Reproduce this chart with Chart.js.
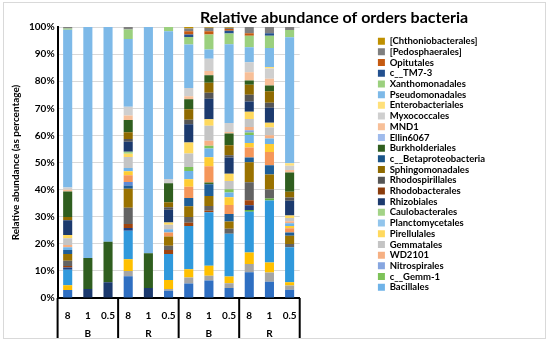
<!DOCTYPE html>
<html>
<head>
<meta charset="utf-8">
<script src="https://cdn.jsdelivr.net/npm/chart.js@4.4.1/dist/chart.umd.min.js"></script>
<style>
    html, body { margin: 0; padding: 0; background: #fff; }
    #wrap { position: relative; width: 550px; height: 344px; }
    #frame { position: absolute; left: 3px; top: 2px; width: 543px; height: 337px; border: 1px solid #d9d9d9; box-sizing: border-box; pointer-events: none; }
</style>
</head>
<body>
<div id="wrap">
    <canvas id="ordersChart" width="550" height="344"></canvas>
    <div id="frame"></div>
</div>
<script>
// Sous-catégories (barres) et groupes de l'axe X
const categories = ["8", "1", "0.5", "8", "1", "0.5", "8", "1", "0.5", "8", "1", "0.5"];
const groups = ["B", "R", "B", "R"];

// Ordres sans entrée dans la légende (bas des piles)
const unlisted01 = [3.0, 0, 0, 8.0, 0, 2.7, 5.4, 6.4, 3.7, 9.5, 6.0, 3.0];
const unlisted02 = [0, 0, 0, 0, 0, 0, 0, 0, 0, 0, 0, 0];
const unlisted03 = [0, 0, 0, 2.0, 0, 0.6, 2.2, 1.8, 1.7, 3.0, 3.4, 1.6];
const unlisted04 = [1.7, 0, 0, 4.3, 0, 3.3, 3.0, 3.7, 2.5, 4.3, 3.7, 1.2];
const unlisted05 = [5.8, 0, 0, 10.5, 0, 9.6, 16.0, 19.7, 15.8, 15.0, 22.8, 12.9];
const unlisted06 = [0, 0, 0, 0, 0, 0, 0, 0, 0, 0.6, 0.7, 0];
const unlisted07 = [0.8, 0, 0, 1.0, 0, 0, 0, 0, 0, 1.8, 0, 0];
const unlisted08 = [0.6, 0, 0, 1.5, 0, 1.5, 1.2, 0.5, 0, 1.8, 0, 0];
const unlisted09 = [2.0, 0, 0, 6.0, 0, 1.6, 2.1, 1.8, 1.8, 6.7, 3.3, 1.2];
const unlisted10 = [2.5, 0, 0, 7.0, 0, 3.4, 4.0, 3.7, 2.7, 7.3, 5.5, 3.1];
const unlisted11 = [1.5, 0, 0, 1.2, 0, 0, 3.0, 4.3, 2.8, 1.8, 3.4, 1.2];
const unlisted12 = [0, 0, 0, 0, 0, 0, 0, 0.6, 0, 0, 0, 0];
const unlisted13 = [0, 0, 0, 1.3, 0, 0, 0, 0, 0, 0, 0, 0];
const unlisted14 = [0, 0, 0, 2.5, 0, 1.5, 4.2, 6.0, 3.3, 3.7, 4.9, 1.5];
const unlisted15 = [0, 0, 0, 0, 0, 0, 0, 0, 0, 0, 0, 0];
const unlisted16 = [0, 0, 0, 1.5, 0, 0, 2.8, 3.3, 2.8, 1.6, 3.0, 0.9];

// Ordres de la légende (du bas vers le haut des piles)
const bacillales = [1.0, 0, 0, 1.2, 0, 1.2, 3.0, 3.3, 1.8, 3.0, 2.0, 1.0];
const gemm1 = [0, 0, 0, 0, 0, 0, 1.5, 1.0, 1.2, 0.9, 0, 0];
const nitrospirales = [0, 0, 0, 0, 0, 0, 0, 0, 0, 0.8, 0, 0];
const wd2101 = [0.8, 0, 0, 0, 0, 0, 0, 1.8, 0, 1.2, 1.2, 0.7];
const gemmatales = [2.5, 0, 0, 4.0, 0, 1.6, 5.0, 5.5, 3.0, 3.0, 2.8, 1.2];
const pirellulales = [1.2, 0, 0, 1.2, 0, 0.9, 4.0, 2.4, 2.7, 2.7, 1.8, 0.9];
const planctomycetales = [0, 0, 0, 0, 0, 0, 0, 0, 0, 0, 0, 0];
const caulobacterales = [0, 0, 0, 0.8, 0, 0, 0, 0, 0, 0, 0, 0];
const rhizobiales = [5.5, 3.3, 5.8, 3.7, 3.7, 4.7, 6.8, 7.6, 6.0, 3.7, 5.5, 5.5];
const rhodobacterales = [0, 0, 0, 0, 0, 0, 0, 0, 0, 0, 0, 0];
const rhodospirillales = [0, 0, 0, 1.0, 0, 0.9, 1.6, 2.2, 0.8, 2.5, 1.8, 1.2];
const sphingomonadales = [1.2, 0, 0, 2.5, 0, 1.8, 3.9, 3.7, 3.7, 3.7, 4.3, 2.1];
const betaproteobacteria = [0, 0, 0, 0, 0, 0, 0, 0, 0, 0, 0, 0];
const burkholderiales = [9.5, 11.5, 15.0, 4.5, 12.8, 7.0, 3.7, 2.7, 4.3, 1.6, 2.1, 7.1];
const ellin6067 = [0, 0, 0, 0, 0, 0, 0, 0, 0, 0, 0, 0];
const mnd1 = [0.7, 0, 0, 1.6, 0, 0, 1.1, 1.6, 0.6, 3.0, 2.5, 0.9];
const myxococcales = [0.8, 0, 0, 3.3, 0, 1.6, 3.1, 4.5, 3.3, 3.7, 3.7, 1.6];
const enterobacteriales = [0, 0, 0, 0, 0, 0, 0, 0, 0, 0, 0.6, 0.9];
const pseudomonadales = [58.7, 85.2, 79.2, 25.0, 83.5, 54.5, 16.0, 3.4, 29.0, 5.5, 7.0, 46.5];
const xanthomonadales = [0.4, 0, 0, 3.5, 0, 1.6, 2.8, 5.5, 4.0, 4.3, 4.5, 2.7];
const tm73 = [0, 0, 0, 0, 0, 0, 0.9, 0, 1.0, 0, 0.9, 0];
const opitutales = [0, 0, 0, 0, 0, 0, 1.2, 1.2, 0.7, 0.9, 0, 0];
const pedosphaerales = [0.6, 0, 0, 0.9, 0, 0, 1.0, 1.3, 0.4, 2.3, 2.3, 1.1];
const chthoniobacterales = [0, 0, 0, 0, 0, 0, 0.6, 0.3, 0.3, 0, 0, 0];

const unlistedSeries = [unlisted01, unlisted02, unlisted03, unlisted04, unlisted05, unlisted06, unlisted07, unlisted08,
    unlisted09, unlisted10, unlisted11, unlisted12, unlisted13, unlisted14, unlisted15, unlisted16];

const orderNames = ["Bacillales", "c__Gemm-1", "Nitrospirales", "WD2101", "Gemmatales", "Pirellulales", "Planctomycetales",
    "Caulobacterales", "Rhizobiales", "Rhodobacterales", "Rhodospirillales", "Sphingomonadales", "c__Betaproteobacteria",
    "Burkholderiales", "Ellin6067", "MND1", "Myxococcales", "Enterobacteriales", "Pseudomonadales", "Xanthomonadales",
    "c__TM7-3", "Opitutales", "[Pedosphaerales]", "[Chthoniobacterales]"];
const orderSeries = [bacillales, gemm1, nitrospirales, wd2101, gemmatales, pirellulales, planctomycetales,
    caulobacterales, rhizobiales, rhodobacterales, rhodospirillales, sphingomonadales, betaproteobacteria,
    burkholderiales, ellin6067, mnd1, myxococcales, enterobacteriales, pseudomonadales, xanthomonadales,
    tm73, opitutales, pedosphaerales, chthoniobacterales];

// Palette type Excel (6 couleurs, variantes par bloc)
const couleurs = [
    "#2f6fc2", "#ed7d31", "#a5a5a5", "#ffc000", "#3099dc", "#62ad3e",
    "#223f80", "#a0440e", "#636363", "#9a7200", "#1e5e98", "#3d6b26",
    "#5e8ad6", "#f5965a", "#b5b5b5", "#ffcd33", "#6fb3e8", "#7dc259",
    "#86a6e0", "#f6b083", "#c4c4c4", "#ffd95e", "#92c5ec", "#a3d387",
    "#1c3a6e", "#8a3c0c", "#555555", "#8f6a00", "#1a5488", "#2f5e1f",
    "#9fbbec", "#f7bf98", "#cfcfcf", "#ffe07a", "#7db9e8", "#9bd07e",
    "#23508f", "#c55a11", "#7f7f7f", "#bf9000"
];

const allSeries = unlistedSeries.concat(orderSeries);
const allNames = unlistedSeries.map((s, i) => "Unlisted " + (i + 1)).concat(orderNames);

// 100 % empilé : chaque barre ramenée à 100
const totals = categories.map((c, j) => allSeries.reduce((s, serie) => s + serie[j], 0));

const datasets = allSeries.map((serie, i) => ({
    label: allNames[i],
    data: serie.map((v, j) => v / totals[j] * 100),
    backgroundColor: couleurs[i],
    borderWidth: 0,
    barPercentage: 0.45,
    categoryPercentage: 1.0
}));

const police = "Lato, 'DejaVu Sans', sans-serif";

// Titre + étiquettes de groupes et séparateurs de l'axe X
const decorations = {
    id: "decorations",
    afterDraw(chart) {
        const ctx = chart.ctx;
        const x = chart.scales.x;
        const area = chart.chartArea;
        ctx.save();
        ctx.fillStyle = "#000";
        ctx.textAlign = "center";
        ctx.textBaseline = "middle";
        ctx.font = "bold 16px " + police;
        ctx.fillText("Relative abundance of orders bacteria", 334, 18);

        ctx.font = "bold 10px " + police;
        const per = categories.length / groups.length;
        groups.forEach((g, k) => {
            const a = x.getPixelForValue(k * per);
            const b = x.getPixelForValue(k * per + per - 1);
            ctx.fillText(g, (a + b) / 2, area.bottom + 36);
        });
        ctx.strokeStyle = "#000";
        ctx.lineWidth = 2;
        for (let k = 0; k <= groups.length; k++) {
            let px;
            if (k === 0) px = area.left;
            else if (k === groups.length) px = area.right;
            else px = (x.getPixelForValue(k * per - 1) + x.getPixelForValue(k * per)) / 2;
            ctx.beginPath();
            ctx.moveTo(px, area.bottom);
            ctx.lineTo(px, area.bottom + 40);
            ctx.stroke();
        }
        ctx.restore();
    }
};

new Chart(document.getElementById("ordersChart"), {
    type: "bar",
    data: { labels: categories, datasets: datasets },
    options: {
        responsive: false,
        animation: false,
        layout: { padding: { left: 6, top: 27, right: 55, bottom: 6 } },
        scales: {
            x: {
                stacked: true,
                grid: { display: false },
                border: { color: "#000", width: 2 },
                ticks: { color: "#000", font: { family: police, size: 10, weight: "bold" }, padding: 4 },
                afterFit: s => { s.height = 40; }
            },
            y: {
                stacked: true,
                min: 0,
                max: 100,
                ticks: {
                    stepSize: 10,
                    color: "#000",
                    font: { family: police, size: 10, weight: "bold" },
                    callback: v => v + "%"
                },
                grid: { color: "#d9d9d9", drawTicks: false },
                border: { color: "#000", width: 2 },
                title: {
                    display: true,
                    text: "Relative abundance (as percentage)",
                    color: "#000",
                    font: { family: police, size: 10, weight: "bold" }
                }
            },
            marge: {
                position: "right",
                display: true,
                min: 0,
                max: 100,
                grid: { display: false },
                border: { display: false },
                ticks: { display: false },
                afterFit: s => { s.width = 77; }
            }
        },
        plugins: {
            title: { display: false },
            tooltip: { enabled: false },
            legend: {
                position: "right",
                align: "start",
                reverse: true,
                maxWidth: 200,
                title: { display: true, text: "", padding: 3.5, font: { size: 1 } },
                labels: {
                    boxWidth: 7,
                    boxHeight: 7,
                    padding: 1.2,
                    color: "#000",
                    font: { family: police, size: 9.5, weight: "bold" },
                    filter: item => item.datasetIndex >= unlistedSeries.length
                }
            }
        }
    },
    plugins: [decorations]
});
</script>
</body>
</html>
